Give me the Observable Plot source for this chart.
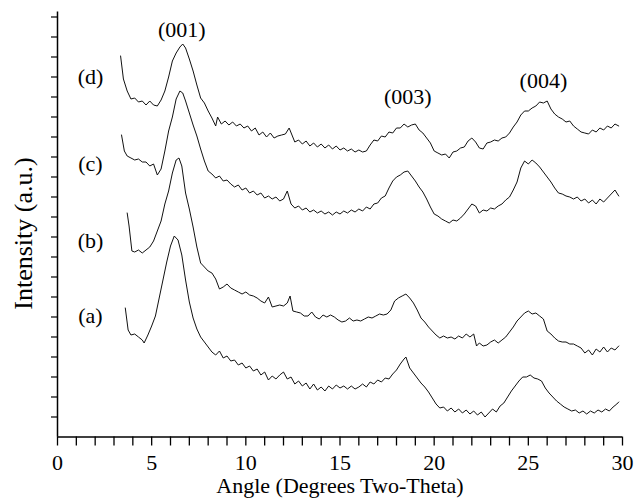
<!DOCTYPE html>
<html><head><meta charset="utf-8">
<script src="https://cdn.jsdelivr.net/npm/d3@7"></script>
<script src="https://cdn.jsdelivr.net/npm/@observablehq/plot@0.6"></script>
<style>body{margin:0;background:#fff}</style>
</head><body><div id="chart"></div>
<script>
// [angle (deg 2θ), intensity (a.u.)]
const seriesA = [[3.6,129],[3.75,107],[3.9,102],[4.1,103],[4.3,100],[4.5,97],[4.6,94],[4.8,102],[5.0,111],[5.2,121],[5.4,139],[5.6,157],[5.8,175],[6.0,191],[6.2,201],[6.4,197],[6.6,182],[6.8,157],[7.0,135],[7.2,119],[7.4,108],[7.6,100],[7.8,95],[8.0,90],[8.2,85],[8.4,82],[8.6,86],[8.8,79],[9.0,81],[9.2,76],[9.4,77],[9.6,72],[9.8,74],[10.0,69],[10.2,71],[10.4,66],[10.6,68],[10.8,62],[11.0,65],[11.2,57],[11.4,61],[11.6,58],[11.8,62],[12.0,65],[12.2,58],[12.4,60],[12.6,53],[12.8,56],[13.0,51],[13.2,54],[13.4,48],[13.6,53],[13.8,47],[14.0,50],[14.2,46],[14.4,51],[14.6,48],[14.8,52],[15.0,49],[15.2,51],[15.4,48],[15.6,51],[15.8,48],[16.0,50],[16.2,53],[16.4,50],[16.6,55],[16.8,53],[17.0,57],[17.2,55],[17.4,59],[17.6,58],[17.8,63],[18.0,67],[18.2,73],[18.4,78],[18.5,80],[18.7,69],[18.9,64],[19.1,59],[19.3,54],[19.5,50],[19.7,45],[19.9,39],[20.1,33],[20.3,29],[20.5,30],[20.7,26],[20.9,29],[21.1,25],[21.3,28],[21.5,24],[21.7,27],[21.9,23],[22.1,26],[22.3,22],[22.5,25],[22.7,20],[22.9,24],[23.1,28],[23.3,25],[23.5,31],[23.7,34],[23.9,40],[24.1,46],[24.3,51],[24.5,56],[24.7,60],[24.9,60],[25.1,62],[25.3,59],[25.5,58],[25.7,56],[25.9,49],[26.1,44],[26.3,40],[26.5,36],[26.7,33],[26.9,30],[27.1,28],[27.3,26],[27.5,27],[27.7,24],[27.9,26],[28.1,23],[28.3,26],[28.5,24],[28.7,27],[28.9,25],[29.1,28],[29.3,26],[29.5,30],[29.7,33],[29.8,35]];
const seriesB = [[3.7,224],[3.8,211],[3.95,186],[4.1,185],[4.3,187],[4.5,184],[4.7,187],[4.9,190],[5.1,196],[5.3,206],[5.5,216],[5.7,233],[5.9,246],[6.1,264],[6.3,277],[6.45,279],[6.6,271],[6.8,244],[7.0,228],[7.2,210],[7.4,190],[7.6,174],[7.8,170],[8.0,166],[8.2,164],[8.4,158],[8.6,148],[8.8,150],[9.0,153],[9.2,149],[9.4,147],[9.6,145],[9.8,143],[10.0,145],[10.2,142],[10.4,141],[10.6,139],[10.8,136],[11.0,134],[11.2,140],[11.4,130],[11.6,131],[11.8,132],[12.0,131],[12.2,134],[12.35,141],[12.5,126],[12.7,125],[12.9,124],[13.1,121],[13.3,121],[13.5,125],[13.7,120],[13.9,118],[14.1,122],[14.3,120],[14.5,122],[14.7,120],[14.9,117],[15.1,115],[15.3,116],[15.5,119],[15.7,116],[15.9,117],[16.1,116],[16.3,118],[16.5,120],[16.7,119],[16.9,121],[17.1,123],[17.3,122],[17.5,123],[17.7,127],[17.9,136],[18.1,139],[18.3,141],[18.5,143],[18.7,139],[18.9,134],[19.1,127],[19.3,119],[19.5,115],[19.7,110],[19.9,106],[20.1,102],[20.3,99],[20.5,101],[20.7,99],[20.9,100],[21.1,98],[21.3,101],[21.5,99],[21.7,103],[21.9,100],[22.1,103],[22.25,91],[22.4,94],[22.6,91],[22.8,92],[23.0,95],[23.2,97],[23.4,94],[23.6,97],[23.8,100],[24.0,105],[24.2,110],[24.4,116],[24.6,120],[24.8,124],[25.0,126],[25.2,123],[25.4,124],[25.6,121],[25.8,118],[26.0,106],[26.2,103],[26.4,99],[26.6,96],[26.8,95],[27.0,95],[27.2,93],[27.4,93],[27.6,91],[27.8,89],[28.0,84],[28.2,87],[28.4,82],[28.6,88],[28.8,85],[29.0,90],[29.2,85],[29.4,89],[29.6,87],[29.8,91]];
const seriesC = [[3.4,302],[3.55,286],[3.7,281],[3.9,279],[4.1,277],[4.3,278],[4.5,275],[4.7,275],[4.9,271],[5.1,273],[5.3,262],[5.5,268],[5.7,286],[5.9,306],[6.1,320],[6.3,338],[6.5,346],[6.65,344],[6.8,336],[7.0,324],[7.2,312],[7.4,301],[7.6,288],[7.8,276],[8.0,266],[8.2,263],[8.4,259],[8.6,261],[8.8,256],[9.0,257],[9.2,253],[9.4,250],[9.6,252],[9.8,247],[10.0,249],[10.2,244],[10.4,246],[10.6,242],[10.8,244],[11.0,239],[11.2,241],[11.4,238],[11.6,240],[11.8,236],[12.0,238],[12.2,246],[12.4,233],[12.6,229],[12.8,231],[13.0,227],[13.2,229],[13.4,225],[13.6,227],[13.8,224],[14.0,226],[14.2,223],[14.4,225],[14.6,222],[14.8,225],[15.0,223],[15.2,226],[15.4,224],[15.6,227],[15.8,225],[16.0,228],[16.2,226],[16.4,230],[16.6,228],[16.8,233],[17.0,234],[17.2,239],[17.4,241],[17.6,249],[17.8,256],[18.0,260],[18.2,262],[18.4,265],[18.6,266],[18.8,261],[19.0,256],[19.2,250],[19.4,245],[19.6,238],[19.8,230],[20.0,223],[20.2,221],[20.4,218],[20.6,216],[20.8,214],[21.0,217],[21.2,216],[21.4,219],[21.6,223],[21.8,228],[22.0,233],[22.2,231],[22.4,224],[22.6,227],[22.8,226],[23.0,229],[23.2,228],[23.4,231],[23.6,233],[23.8,237],[24.0,240],[24.2,247],[24.4,255],[24.6,269],[24.8,276],[25.0,273],[25.2,277],[25.4,274],[25.6,270],[25.8,265],[26.0,260],[26.2,255],[26.4,249],[26.6,244],[26.8,243],[27.0,241],[27.2,240],[27.4,238],[27.6,240],[27.8,236],[28.0,238],[28.2,234],[28.4,237],[28.6,233],[28.8,238],[29.0,235],[29.2,239],[29.4,243],[29.6,247],[29.8,241]];
const seriesD = [[3.35,381],[3.5,358],[3.7,346],[3.9,338],[4.1,339],[4.3,335],[4.5,336],[4.7,332],[4.9,336],[5.1,332],[5.3,331],[5.5,337],[5.7,346],[5.9,360],[6.1,376],[6.3,384],[6.5,390],[6.65,393],[6.8,389],[7.0,378],[7.2,366],[7.4,352],[7.6,339],[7.8,334],[8.0,326],[8.2,319],[8.4,311],[8.5,320],[8.7,313],[8.9,316],[9.1,312],[9.3,315],[9.5,311],[9.7,313],[9.9,309],[10.1,311],[10.3,306],[10.5,309],[10.7,302],[10.9,305],[11.1,300],[11.3,304],[11.5,299],[11.7,301],[11.9,302],[12.1,303],[12.3,309],[12.45,302],[12.6,295],[12.8,297],[13.0,293],[13.2,296],[13.4,291],[13.6,294],[13.8,290],[14.0,293],[14.2,289],[14.4,292],[14.6,288],[14.8,291],[15.0,287],[15.2,289],[15.4,286],[15.6,288],[15.8,285],[16.0,287],[16.2,285],[16.4,286],[16.6,292],[16.8,297],[17.0,296],[17.2,301],[17.4,300],[17.6,305],[17.8,304],[18.0,309],[18.2,309],[18.4,313],[18.6,310],[18.8,312],[19.0,313],[19.2,307],[19.4,304],[19.6,299],[19.8,294],[20.0,286],[20.2,284],[20.4,282],[20.6,283],[20.8,279],[21.0,285],[21.2,286],[21.4,289],[21.6,290],[21.8,296],[22.0,299],[22.2,295],[22.4,289],[22.6,288],[22.8,294],[23.0,295],[23.2,297],[23.4,296],[23.6,299],[23.8,300],[24.0,304],[24.2,310],[24.4,315],[24.6,322],[24.8,326],[25.0,326],[25.2,329],[25.4,331],[25.6,335],[25.8,334],[26.0,336],[26.2,328],[26.4,323],[26.6,320],[26.8,318],[27.0,315],[27.2,316],[27.4,311],[27.6,308],[27.8,305],[28.0,304],[28.2,303],[28.4,307],[28.6,305],[28.8,309],[29.0,307],[29.2,311],[29.4,309],[29.6,313],[29.8,311]];

const seriesNames = ["(a)", "(b)", "(c)", "(d)"];
const seriesLabelAngle = [1.75, 1.75, 1.75, 1.75];
const seriesLabelIntensity = [121, 196, 273, 360];
const peakNames = ["(001)", "(003)", "(004)"];
const peakAngles = [6.6, 18.6, 25.8];
const peakLabelIntensity = [407, 340, 356];
const xTicks = [0,1,2,3,4,5,6,7,8,9,10,11,12,13,14,15,16,17,18,19,20,21,22,23,24,25,26,27,28,29,30];
const xTickLabels = [0, 5, 10, 15, 20, 25, 30];
const yTicks = [20,40,60,80,100,120,140,160,180,200,220,240,260,280,300,320,340,360,380,400,420];

const rows = [];
[["a", seriesA], ["b", seriesB], ["c", seriesC], ["d", seriesD]].forEach(([k, arr]) =>
  arr.forEach(([x, y]) => rows.push({series: k, angle: x, intensity: y})));
const seriesLabels = seriesNames.map((t, i) => ({t, x: seriesLabelAngle[i], y: seriesLabelIntensity[i]}));
const peakLabels = peakNames.map((t, i) => ({t, x: peakAngles[i], y: peakLabelIntensity[i]}));

const chart = Plot.plot({
  width: 636, height: 500,
  marginLeft: 57, marginRight: 14, marginTop: 11.5, marginBottom: 63.5,
  style: {fontFamily: "'Liberation Serif', 'Times New Roman', serif", fontSize: "22px", color: "#000", background: "#fff", overflow: "visible"},
  x: {domain: [0, 30]},
  y: {domain: [0, 425]},
  marks: [
    Plot.axisX({ticks: xTicks, tickSize: 9, tickPadding: 8, strokeWidth: 1.3, fontSize: 22,
      tickFormat: d => xTickLabels.includes(d) ? String(d) : "", label: null}),
    Plot.axisY({ticks: yTicks, tickSize: 6, strokeWidth: 1.2, tickFormat: () => "", label: null}),
    Plot.ruleY([0], {stroke: "#000", strokeWidth: 1.5}),
    Plot.ruleX([0], {y1: 0, y2: 425, stroke: "#000", strokeWidth: 1.5}),
    Plot.line(rows, {x: "angle", y: "intensity", z: "series", stroke: "#111", strokeWidth: 1}),
    Plot.text(seriesLabels, {x: "x", y: "y", text: "t", fontSize: 22, fill: "#000"}),
    Plot.text(peakLabels, {x: "x", y: "y", text: "t", fontSize: 22, fill: "#000"}),
    Plot.text(["Intensity (a.u.)"], {frameAnchor: "left", textAnchor: "middle", lineAnchor: "middle", rotate: -90, dx: -34, dy: 9, fontSize: 26, text: d => d, fill: "#000"}),
    Plot.text(["Angle (Degrees Two-Theta)"], {frameAnchor: "bottom", textAnchor: "middle", lineAnchor: "middle", dy: 49, fontSize: 22, text: d => d, fill: "#000"})
  ]
});
document.getElementById("chart").appendChild(chart);
</script>
</body></html>
